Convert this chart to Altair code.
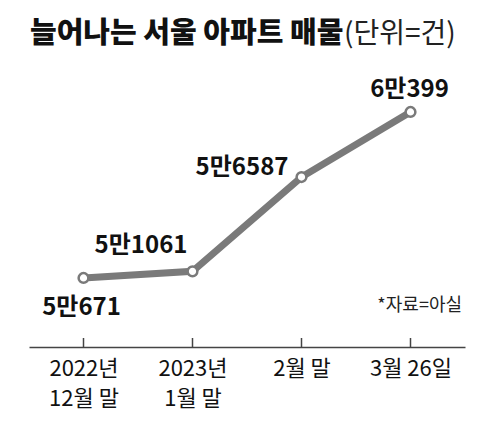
import altair as alt
import pandas as pd

categories = ["2022년|12월 말", "2023년|1월 말", "2월 말", "3월 26일"]
values = [50671, 51061, 56587, 60399]
labels = ["5만671", "5만1061", "5만6587", "6만399"]

title_main = "늘어나는 서울 아파트 매물"
title_unit = "(단위=건)"
source_note = "*자료=아실"

df = pd.DataFrame({"cat": categories, "value": values, "label": labels})

KR_FONT = "Noto Sans CJK KR, sans-serif"
GRAY = "#7a7a7a"

x_enc = alt.X(
    "cat:N",
    sort=categories,
    scale=alt.Scale(type="point", padding=0.5),
    axis=alt.Axis(
        title=None,
        labelAngle=0,
        labelExpr="split(datum.label, '|')",
        labelFont=KR_FONT,
        labelFontSize=22,
        labelColor="#111",
        labelPadding=11,
        labelLineHeight=30,
        ticks=False,
        domain=True,
        domainColor="#444",
        domainWidth=1.5,
        grid=False,
    ),
)
y_enc = alt.Y("value:Q", scale=alt.Scale(domain=[46627, 63446], nice=False, zero=False), axis=None)

base = alt.Chart(df).encode(x=x_enc, y=y_enc)

line = base.mark_line(color=GRAY, strokeWidth=7)
pts = base.mark_point(shape="circle", filled=True, fill="white", stroke=GRAY,
                      strokeWidth=2.5, size=95, opacity=1)
ticks = alt.Chart(df).mark_rule(color="#444", strokeWidth=1.5).encode(
    x=alt.X("cat:N", sort=categories), y=alt.value(287), y2=alt.value(278)
)

offsets = [("center", -2, 37), ("right", -5, -18), ("right", -13, -2), ("center", -1, -15)]
label_layers = []
for lab, (al, dx, dy) in zip(labels, offsets):
    label_layers.append(
        base.transform_filter(alt.datum.label == lab)
        .mark_text(align=al, dx=dx, dy=dy, baseline="alphabetic", font=KR_FONT,
                   fontSize=24, fontWeight="bold", color="#111")
        .encode(text="label:N")
    )

t_main = alt.Chart(pd.DataFrame({"t": [title_main]})).mark_text(
    align="left", baseline="alphabetic", font=KR_FONT, fontSize=29, fontWeight=900, color="#111"
).encode(x=alt.value(1), y=alt.value(-17), text="t:N")
t_unit = alt.Chart(pd.DataFrame({"t": [title_unit]})).mark_text(
    align="left", baseline="alphabetic", font=KR_FONT, fontSize=28, color="#222"
).encode(x=alt.value(315), y=alt.value(-17), text="t:N")
t_src = alt.Chart(pd.DataFrame({"t": [source_note]})).mark_text(
    align="right", baseline="alphabetic", font=KR_FONT, fontSize=18, color="#222"
).encode(x=alt.value(433), y=alt.value(251), text="t:N")

chart = alt.layer(line, pts, ticks, *label_layers, t_main, t_unit, t_src).properties(
    width=436, height=287,
    autosize=alt.AutoSizeParams(type="none"),
    padding={"left": 21, "top": 52, "right": 9, "bottom": 67},
    background="white",
).configure_view(stroke=None)

chart.save("out.html", embed_options={"renderer": "svg", "actions": False})
